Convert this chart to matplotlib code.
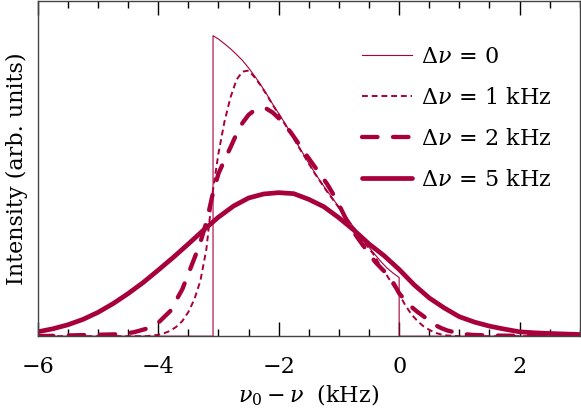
import numpy as np
import matplotlib
matplotlib.use("Agg")
import matplotlib.pyplot as plt

plt.rcParams['font.family'] = ['DejaVu Serif']
plt.rcParams['mathtext.fontset'] = 'dejavuserif'

# (x in kHz, intensity in arb. units, axis top = 1)
x0 = [-6, -3.09, -3.09, -3.0, -2.9, -2.8, -2.7, -2.6, -2.5, -2.4, -2.3, -2.2,
      -2.1, -2.0, -1.9, -1.8, -1.7, -1.6, -1.5, -1.4, -1.3, -1.2, -1.1,
      -1.0, -0.9, -0.8, -0.7, -0.6, -0.5, -0.4, -0.3, -0.2, -0.1, 0.0,
      0.0, 3]
y0 = [0, 0, 0.896, 0.886, 0.872, 0.857, 0.840, 0.822, 0.800, 0.776, 0.750,
      0.722, 0.692, 0.664, 0.636, 0.606, 0.576, 0.546, 0.516, 0.487, 0.460,
      0.434, 0.410, 0.385, 0.360, 0.336, 0.312, 0.288, 0.265, 0.243, 0.222,
      0.203, 0.188, 0.175, 0, 0]

x1 = [-6, -4.2, -4.0, -3.9, -3.8, -3.7, -3.6, -3.5, -3.4, -3.3, -3.2, -3.1,
      -3.0, -2.9, -2.8, -2.7, -2.6, -2.5, -2.4, -2.3, -2.2, -2.1, -2.0,
      -1.8, -1.6, -1.4, -1.2, -1.0, -0.8, -0.6, -0.4, -0.3, -0.2, -0.1,
      0.0, 0.1, 0.2, 0.3, 0.4, 0.5, 0.6, 0.7, 0.8, 1.0, 3]
y1 = [0, 0, 0.004, 0.009, 0.016, 0.028, 0.045, 0.072, 0.11, 0.165, 0.26,
      0.425, 0.545, 0.64, 0.712, 0.765, 0.789, 0.792, 0.772, 0.748, 0.720,
      0.690, 0.662, 0.604, 0.544, 0.485, 0.432, 0.383, 0.334, 0.286, 0.238,
      0.205, 0.180, 0.152, 0.125, 0.093, 0.066, 0.046, 0.030, 0.019, 0.010,
      0.005, 0.002, 0, 0]

x2 = [-6, -4.6, -4.4, -4.2, -4.0, -3.8, -3.6, -3.4, -3.3, -3.2, -3.1, -3.0,
      -2.9, -2.8, -2.7, -2.6, -2.5, -2.4, -2.3, -2.2, -2.1, -2.0, -1.9,
      -1.8, -1.7, -1.6, -1.5, -1.4, -1.3, -1.2, -1.1, -1.0, -0.9, -0.8,
      -0.7, -0.6, -0.5, -0.4, -0.3, -0.2, -0.1, 0.0, 0.1, 0.2, 0.3, 0.4,
      0.5, 0.6, 0.7, 0.8, 1.0, 1.2, 1.5, 2.0, 3]
y2 = [0, 0.006, 0.012, 0.022, 0.040, 0.075, 0.14, 0.232, 0.28, 0.34, 0.42,
      0.485, 0.525, 0.563, 0.603, 0.636, 0.660, 0.674, 0.680, 0.678, 0.667,
      0.650, 0.630, 0.608, 0.582, 0.555, 0.530, 0.505, 0.480, 0.455, 0.425,
      0.392, 0.356, 0.322, 0.296, 0.271, 0.247, 0.222, 0.203, 0.185, 0.160,
      0.128, 0.107, 0.088, 0.073, 0.060, 0.046, 0.033, 0.024, 0.017, 0.008,
      0.004, 0.002, 0.001, 0]

x5 = [-6, -5.75, -5.5, -5.25, -5.0, -4.75, -4.5, -4.25, -4.0, -3.75, -3.5,
      -3.25, -3.0, -2.75, -2.5, -2.25, -2.0, -1.75, -1.5, -1.25, -1.0,
      -0.75, -0.5, -0.25, 0.0, 0.25, 0.5, 0.75, 1.0, 1.25, 1.5, 1.75, 2.0,
      2.25, 2.5, 3]
y5 = [0.013, 0.022, 0.034, 0.050, 0.071, 0.097, 0.127, 0.160, 0.197, 0.235,
      0.275, 0.316, 0.355, 0.388, 0.412, 0.424, 0.428, 0.425, 0.408, 0.386,
      0.353, 0.316, 0.275, 0.240, 0.199, 0.153, 0.114, 0.084, 0.058, 0.042,
      0.030, 0.021, 0.013, 0.010, 0.008, 0.005]

labels = [r'$\Delta\nu\,=\,0$', r'$\Delta\nu\,=\,1$ kHz',
          r'$\Delta\nu\,=\,2$ kHz', r'$\Delta\nu\,=\,5$ kHz']
col = '#a8003b'

fig = plt.figure(figsize=(5.81, 4.13), dpi=100)
ax = fig.add_axes([0.065, 0.186, 0.933, 0.812])

ax.plot(x0, y0, color=col, lw=0.8, label=labels[0])
ax.plot(x1, y1, color=col, lw=1.4, dashes=(3, 2), label=labels[1])
ax.plot(x2, y2, color=col, lw=3.1, dashes=(3.6, 3.6), dash_capstyle='round',
        label=labels[2])
ax.plot(x5, y5, color=col, lw=3.4, solid_capstyle='round',
        solid_joinstyle='round', label=labels[3])

ax.set_xlim(-6, 3)
ax.set_ylim(0, 1)
ax.set_xticks([-6, -4, -2, 0, 2])
ax.set_xticks(np.arange(-6, 3.01, 0.5), minor=True)
ax.set_yticks([])
ax.tick_params(axis='x', which='both', direction='in', top=True, labelsize=16,
               pad=14, width=1)
ax.tick_params(axis='x', which='major', length=10)
ax.tick_params(axis='x', which='minor', length=5)
for s in ax.spines.values():
    s.set_linewidth(1.0)
    s.set_color('#444444')

ax.set_xlabel(r'$\nu_0 - \nu$  (kHz)', fontsize=16, labelpad=4)
ax.set_ylabel('Intensity (arb. units)', fontsize=16, labelpad=7)

ax.legend(loc='upper left', bbox_to_anchor=(362 / 581, 1 - 46 / 413),
          bbox_transform=fig.transFigure, frameon=False, fontsize=16,
          handlelength=2.25, handletextpad=0.4, labelspacing=0.85,
          borderpad=0, borderaxespad=0)

fig.savefig('out.png', dpi=100)
